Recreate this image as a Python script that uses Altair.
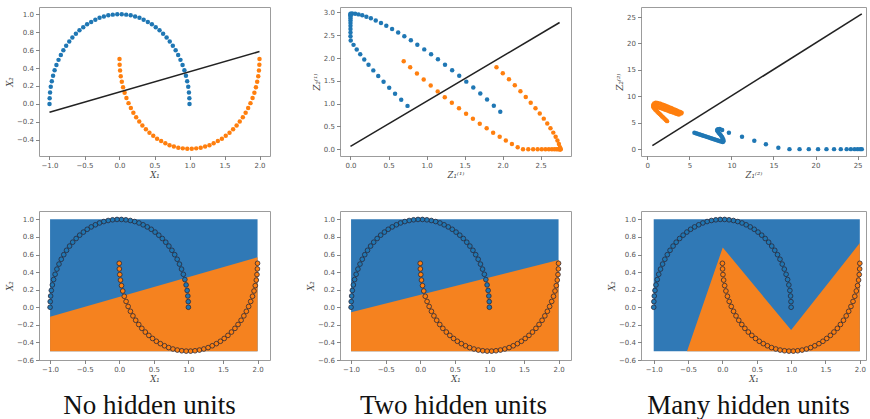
import altair as alt
import pandas as pd

BLUE = "#1f77b4"
ORANGE = "#ff7f0e"
FILL_BLUE = "#3079b6"
FILL_ORANGE = "#f5821f"

# ---- two-moons input data (X1, X2) ----
moon_blue_x = [1.000, 0.998, 0.992, 0.982, 0.967, 0.949, 0.927, 0.901, 0.871, 0.838, 0.802, 0.762, 0.718, 0.673, 0.623,
               0.572, 0.518, 0.463, 0.405, 0.345, 0.285, 0.223, 0.160, 0.096, 0.032, -0.032, -0.096, -0.160, -0.223,
               -0.285, -0.345, -0.405, -0.463, -0.518, -0.572, -0.623, -0.673, -0.718, -0.762, -0.802, -0.838, -0.871,
               -0.901, -0.927, -0.949, -0.967, -0.982, -0.992, -0.998, -1.000]
moon_blue_y = [0.000, 0.064, 0.128, 0.191, 0.254, 0.315, 0.375, 0.434, 0.491, 0.546, 0.598, 0.648, 0.696, 0.740, 0.782,
               0.820, 0.855, 0.887, 0.914, 0.938, 0.959, 0.975, 0.987, 0.995, 0.999, 0.999, 0.995, 0.987, 0.975, 0.959,
               0.938, 0.914, 0.887, 0.855, 0.820, 0.782, 0.740, 0.696, 0.648, 0.598, 0.546, 0.491, 0.434, 0.375, 0.315,
               0.254, 0.191, 0.128, 0.064, 0.000]
moon_orange_x = [0.000, 0.002, 0.008, 0.018, 0.033, 0.051, 0.073, 0.099, 0.129, 0.162, 0.198, 0.238, 0.282, 0.327, 0.377,
                 0.428, 0.482, 0.537, 0.595, 0.655, 0.715, 0.777, 0.840, 0.904, 0.968, 1.032, 1.096, 1.160, 1.223,
                 1.285, 1.345, 1.405, 1.463, 1.518, 1.572, 1.623, 1.673, 1.718, 1.762, 1.802, 1.838, 1.871, 1.901,
                 1.927, 1.949, 1.967, 1.982, 1.992, 1.998, 2.000]
moon_orange_y = [0.500, 0.436, 0.372, 0.309, 0.246, 0.185, 0.125, 0.066, 0.009, -0.046, -0.098, -0.148, -0.196, -0.240,
                 -0.282, -0.320, -0.355, -0.387, -0.414, -0.438, -0.459, -0.475, -0.487, -0.495, -0.499, -0.499,
                 -0.495, -0.487, -0.475, -0.459, -0.438, -0.414, -0.387, -0.355, -0.320, -0.282, -0.240, -0.196,
                 -0.148, -0.098, -0.046, 0.009, 0.066, 0.125, 0.185, 0.246, 0.309, 0.372, 0.436, 0.500]

# ---- two hidden units: hidden representation Z(1) ----
z1_blue = [1.970, 1.885, 1.796, 1.707, 1.615, 1.523, 1.430, 1.337, 1.243, 1.150, 1.060, 0.970, 0.879, 0.794, 0.708,
           0.627, 0.547, 0.471, 0.401, 0.332, 0.268, 0.209, 0.155, 0.106, 0.061, 0.021, 0, 0, 0, 0, 0, 0, 0, 0, 0,
           0, 0, 0.003, 0.040, 0.082, 0.128, 0.181, 0.237, 0.300, 0.365, 0.435, 0.509, 0.586, 0.667, 0.750]
z2_blue = [0.820, 0.954, 1.088, 1.220, 1.353, 1.482, 1.609, 1.734, 1.855, 1.972, 2.083, 2.190, 2.293, 2.388, 2.479,
           2.562, 2.638, 2.709, 2.769, 2.823, 2.871, 2.908, 2.938, 2.958, 2.971, 2.975, 2.971, 2.958, 2.937, 2.908,
           2.867, 2.821, 2.769, 2.706, 2.636, 2.560, 2.476, 2.387, 2.289, 2.187, 2.081, 1.968, 1.851, 1.729, 1.605,
           1.479, 1.348, 1.218, 1.084, 0.950]
z1_orange = [0.700, 0.785, 0.874, 0.963, 1.055, 1.147, 1.240, 1.333, 1.427, 1.520, 1.610, 1.700, 1.791, 1.876, 1.962,
             2.043, 2.123, 2.199, 2.269, 2.338, 2.402, 2.461, 2.515, 2.564, 2.609, 2.649, 2.682, 2.711, 2.733, 2.750,
             2.758, 2.763, 2.763, 2.755, 2.741, 2.722, 2.698, 2.667, 2.630, 2.588, 2.542, 2.489, 2.433, 2.370, 2.305,
             2.235, 2.161, 2.084, 2.003, 1.920]
z2_orange = [1.930, 1.796, 1.662, 1.530, 1.397, 1.268, 1.141, 1.017, 0.896, 0.779, 0.667, 0.560, 0.457, 0.362, 0.271,
             0.188, 0.112, 0.041, 0, 0, 0, 0, 0, 0, 0, 0, 0, 0, 0, 0, 0, 0, 0, 0.044, 0.114, 0.190, 0.274, 0.363,
             0.461, 0.563, 0.670, 0.782, 0.899, 1.021, 1.145, 1.271, 1.402, 1.533, 1.666, 1.800]

# ---- many hidden units: representation Z(2) ----
h1_blue = [5.60, 5.78, 5.96, 6.14, 6.32, 6.50, 6.67, 6.85, 7.03, 7.21, 7.39, 7.57, 7.75, 7.93, 8.11, 8.29, 8.47, 8.65,
           8.82, 8.97, 9.05, 9.05, 8.98, 8.88, 8.76, 8.62, 8.48, 8.36, 8.30, 8.40, 8.62, 8.90, 9.70, 11.26, 12.72,
           14.10, 15.58, 16.90, 18.10, 19.20, 20.30, 21.30, 22.20, 23.00, 23.70, 24.20, 24.65, 25.00, 25.30, 25.50]
h2_blue = [3.10, 3.01, 2.92, 2.83, 2.74, 2.64, 2.55, 2.46, 2.36, 2.27, 2.17, 2.08, 1.98, 1.89, 1.79, 1.70, 1.60, 1.51,
           1.43, 1.36, 1.50, 1.75, 2.02, 2.30, 2.58, 2.86, 3.12, 3.38, 3.62, 3.78, 3.80, 3.62, 3.10, 2.33, 1.57, 0.94,
           0.25, 0, 0, 0, 0, 0, 0, 0, 0, 0, 0, 0, 0, 0]
h1_orange = [2.35, 2.20, 2.05, 1.90, 1.76, 1.62, 1.48, 1.34, 1.20, 1.06, 0.93, 0.82, 0.74, 0.70, 0.72, 0.82, 1.00, 1.18,
             1.36, 1.55, 1.73, 1.91, 2.09, 2.27, 2.45, 2.63, 2.82, 3.00, 3.18, 3.36, 3.54, 3.72, 3.90, 4.08, 4.00,
             3.75, 3.56, 3.37, 3.18, 2.99, 2.80, 2.61, 2.42, 2.24, 2.05, 1.86, 1.67, 1.48, 1.29, 1.10]
h2_orange = [5.30, 5.52, 5.75, 5.97, 6.19, 6.41, 6.63, 6.85, 7.07, 7.29, 7.51, 7.73, 7.95, 8.18, 8.42, 8.65, 8.80, 8.74,
             8.66, 8.57, 8.47, 8.36, 8.25, 8.13, 8.01, 7.89, 7.77, 7.64, 7.52, 7.39, 7.27, 7.14, 7.02, 6.90, 6.72,
             6.55, 6.66, 6.76, 6.87, 6.98, 7.08, 7.19, 7.30, 7.41, 7.51, 7.62, 7.73, 7.84, 7.94, 8.05]

# ---- linear separators drawn in the top row ----
sep1_x = [-1.0, 2.0]
sep1_y = [-0.093, 0.584]
sep2_x = [0.0, 2.75]
sep2_y = [0.06, 2.78]
sep3_x = [0.6, 25.5]
sep3_y = [0.65, 25.6]

# ---- decision regions (bottom row) ----
region_x = [-1.0, 2.0]
region_y = [-0.5, 1.0]
bound1_x = [-1.0, 2.0]
bound1_y = [-0.107, 0.568]
bound2_x = [-1.0, 2.0]
bound2_y = [-0.058, 0.537]
bound3_x = [-1.0, -0.515, 0.005, 1.0, 2.0]
bound3_y = [-0.5, -0.5, 0.68, -0.26, 0.73]

captions = ["No hidden units", "Two hidden units", "Many hidden units"]

ticks_x1 = [-1.0, -0.5, 0.0, 0.5, 1.0, 1.5, 2.0]
ticks_y1 = [-0.4, -0.2, 0.0, 0.2, 0.4, 0.6, 0.8, 1.0]
ticks_z1 = [0.0, 0.5, 1.0, 1.5, 2.0, 2.5]
ticks_z2 = [0.0, 0.5, 1.0, 1.5, 2.0, 2.5, 3.0]
ticks_h = [0, 5, 10, 15, 20, 25]
ticks_yb = [-0.6, -0.4, -0.2, 0.0, 0.2, 0.4, 0.6, 0.8, 1.0]

PW = 231
PW3 = 225
PH = 149


def enc(chart, xs, ys, xax, yax):
    return chart.encode(
        x=alt.X("x:Q", scale=xs, axis=xax),
        y=alt.Y("y:Q", scale=ys, axis=yax),
    )


def top_panel(bx, by, ox, oy, lx, ly, xdom, ydom, xt, yt, fmt, xtitle, ytitle, w):
    xs = alt.Scale(domain=xdom, nice=False, zero=False)
    ys = alt.Scale(domain=ydom, nice=False, zero=False)
    xax = alt.Axis(values=xt, format=fmt, title=xtitle)
    yax = alt.Axis(values=yt, format=fmt, title=ytitle)
    pb = enc(alt.Chart(pd.DataFrame({"x": bx, "y": by})).mark_circle(size=20, color=BLUE, opacity=1),
             xs, ys, xax, yax)
    po = enc(alt.Chart(pd.DataFrame({"x": ox, "y": oy})).mark_circle(size=20, color=ORANGE, opacity=1),
             xs, ys, xax, yax)
    ln = enc(alt.Chart(pd.DataFrame({"x": lx, "y": ly})).mark_line(color="#222222", strokeWidth=1.6),
             xs, ys, xax, yax)
    return alt.layer(pb, po, ln).properties(width=w, height=PH)


def bottom_panel(bdx, bdy, xdom, caption, w, dx):
    xs = alt.Scale(domain=xdom, nice=False, zero=False)
    ys = alt.Scale(domain=[-0.6, 1.095], nice=False, zero=False)
    xax = alt.Axis(values=ticks_x1, format=".1f", title="X₁")
    yax = alt.Axis(values=ticks_yb, format=".1f", title="X₂")
    rect_df = pd.DataFrame({"x": [region_x[0]], "x2": [region_x[1]], "y": [region_y[0]], "y2": [region_y[1]]})
    rect = alt.Chart(rect_df).mark_rect(color=FILL_BLUE, opacity=1).encode(
        x=alt.X("x:Q", scale=xs, axis=xax), x2="x2:Q",
        y=alt.Y("y:Q", scale=ys, axis=yax), y2="y2:Q")
    area_df = pd.DataFrame({"x": bdx, "y": bdy, "y2": [region_y[0]] * len(bdx)})
    area = alt.Chart(area_df).mark_area(color=FILL_ORANGE, opacity=1, interpolate="linear").encode(
        x=alt.X("x:Q", scale=xs, axis=xax),
        y=alt.Y("y:Q", scale=ys, axis=yax), y2="y2:Q")
    pb = enc(alt.Chart(pd.DataFrame({"x": moon_blue_x, "y": moon_blue_y})).mark_point(
        shape="circle", filled=True, fill=BLUE, stroke="#2a2a3a", strokeWidth=0.8, size=22, opacity=1),
        xs, ys, xax, yax)
    po = enc(alt.Chart(pd.DataFrame({"x": moon_orange_x, "y": moon_orange_y})).mark_point(
        shape="circle", filled=True, fill=ORANGE, stroke="#2a2a3a", strokeWidth=0.8, size=22, opacity=1),
        xs, ys, xax, yax)
    return alt.layer(rect, area, pb, po).properties(
        width=w, height=PH,
        title=alt.TitleParams(caption, orient="bottom", anchor="middle", font="Liberation Serif",
                              fontSize=27, fontWeight="normal", color="#111111", offset=10, dx=dx))


p1 = top_panel(moon_blue_x, moon_blue_y, moon_orange_x, moon_orange_y, sep1_x, sep1_y,
               [-1.15, 2.15], [-0.58, 1.08], ticks_x1, ticks_y1, ".1f", "X₁", "X₂", PW)
p2 = top_panel(z1_blue, z2_blue, z1_orange, z2_orange, sep2_x, sep2_y,
               [-0.138, 2.9], [-0.15, 3.12], ticks_z1, ticks_z2, ".1f", "Z₁⁽¹⁾", "Z₂⁽¹⁾", PW)
p3 = top_panel(h1_blue, h2_blue, h1_orange, h2_orange, sep3_x, sep3_y,
               [-0.75, 26.0], [-1.3, 26.9], ticks_h, ticks_h, "d", "Z₁⁽²⁾", "Z₂⁽²⁾", PW3)
b1 = bottom_panel(bound1_x, bound1_y, [-1.16, 2.18], captions[0], PW, -5)
b2 = bottom_panel(bound2_x, bound2_y, [-1.16, 2.18], captions[1], PW, -2)
b3 = bottom_panel(bound3_x, bound3_y, [-1.185, 2.09], captions[2], PW3, -5)

chart = alt.concat(p1, p2, p3, b1, b2, b3, columns=3, spacing={"row": 55, "column": 70}, bounds="flush").properties(
    padding={"left": 5, "top": 6, "right": 0, "bottom": 0}
).configure_view(
    stroke="#9c9c9c", strokeWidth=1
).configure_axis(
    grid=False, domain=False, tickColor="#666666", tickSize=3.5, tickWidth=0.8,
    labelFont="DejaVu Sans", labelFontSize=7, labelColor="#555555", labelPadding=2,
    titleFont="DejaVu Serif", titleFontStyle="italic", titleFontWeight="normal",
    titleFontSize=8.5, titleColor="#444444", titlePadding=2, labelFlush=False, labelOverlap=False
)

chart.save("out.html", embed_options={"renderer": "svg", "actions": False})
